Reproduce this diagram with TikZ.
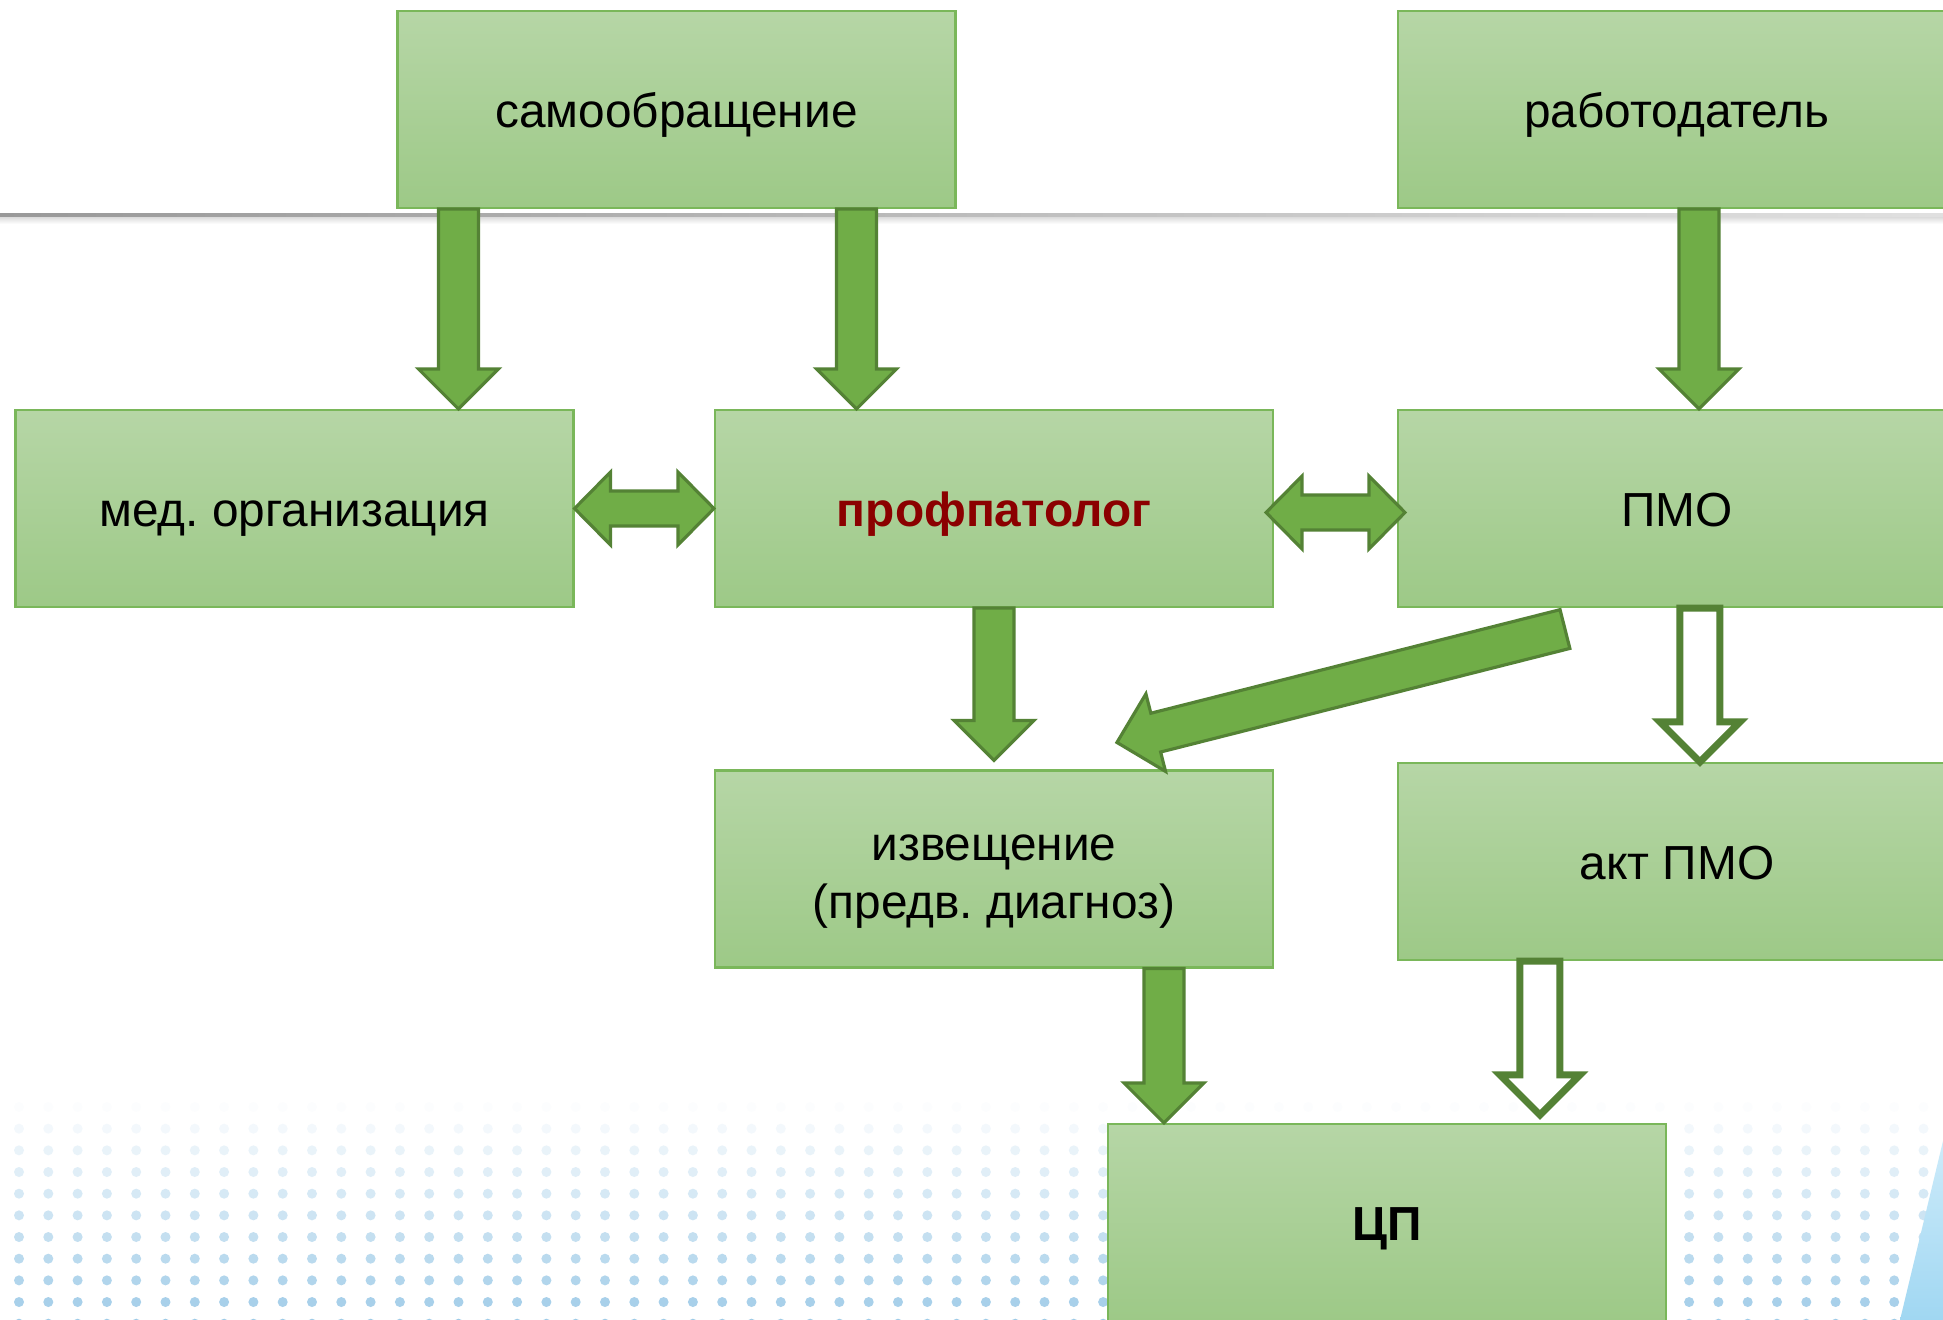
\documentclass[tikz,border=0pt]{standalone}
\usepackage{fontspec}
\setmainfont{Liberation Sans}
\usetikzlibrary{calc}
\frenchspacing

\definecolor{boxtop}{RGB}{182,214,166}
\definecolor{boxbottom}{RGB}{157,201,135}
\definecolor{boxline}{RGB}{122,183,90}
\definecolor{arrowfill}{RGB}{112,173,71}
\definecolor{arrowline}{RGB}{84,130,53}
\definecolor{profred}{RGB}{139,0,0}
\definecolor{dotblue}{RGB}{130,188,225}
\definecolor{wedgetop}{RGB}{205,235,250}
\definecolor{wedgebottom}{RGB}{160,215,242}

\tikzset{
  box/.style={rectangle, minimum width=5.58cm, minimum height=1.97cm, inner sep=0pt,
    draw=boxline, line width=0.6pt, top color=boxtop, bottom color=boxbottom,
    align=center, font=\fontsize{13.6pt}{16.5pt}\selectfont,
    text height=1.03em, text depth=0pt},
  fatarrow/.style={fill=arrowfill, draw=arrowline, line width=0.9pt},
  hollowarrow/.style={fill=white, draw=arrowline, line width=2pt}
}

\newcommand{\blockarrow}[3][fatarrow]{%
  \coordinate (hb) at ($(#3)!0.4cm!(#2)$);
  \draw[#1] ($(#2)!0.2cm!90:(#3)$) -- ($(hb)!0.2cm!90:(#3)$)
    -- ($(hb)!0.4cm!90:(#3)$) -- (#3)
    -- ($(hb)!0.4cm!-90:(#3)$) -- ($(hb)!0.2cm!-90:(#3)$)
    -- ($(#2)!0.2cm!-90:(#3)$) -- cycle;
}
\newcommand{\twinarrow}[3][fatarrow]{%
  \coordinate (ha) at ($(#2)!0.36cm!(#3)$);
  \coordinate (hb) at ($(#3)!0.36cm!(#2)$);
  \draw[#1] (#2) -- ($(ha)!0.365cm!90:(#3)$) -- ($(ha)!0.175cm!90:(#3)$)
    -- ($(hb)!0.175cm!-90:(#2)$) -- ($(hb)!0.365cm!-90:(#2)$) -- (#3)
    -- ($(hb)!0.365cm!90:(#2)$) -- ($(hb)!0.175cm!90:(#2)$)
    -- ($(ha)!0.175cm!-90:(#3)$) -- ($(ha)!0.365cm!-90:(#3)$) -- cycle;
}

\begin{document}
\begin{tikzpicture}
\useasboundingbox (0,0) rectangle (19.43,-13.2);
\clip (0,0) rectangle (19.43,-13.2);
\fill[white] (0,0) rectangle (19.43,-13.2);

\shade[left color=black!40, right color=black!12] (0,-2.14) rectangle (19.43,-2.18);
\shade[top color=black!12, bottom color=white] (0,-2.18) rectangle (19.43,-2.24);
\foreach \row in {0,...,10}
  \foreach \col in {0,...,65}
    \fill[dotblue, opacity=0.02+0.075*\row] (0.19+0.293*\col,-11.07-0.2167*\row) circle [radius=0.05];
\shade[top color=wedgetop, bottom color=wedgebottom] (19.0,-13.2) -- (19.43,-11.41) -- (19.43,-13.2) -- cycle;

\node[box] (samo) at (6.765,-1.095) {самообращение};
\node[box] (rabot) at (16.77,-1.095) {работодатель};
\node[box] (med) at (2.945,-5.085) {мед. организация};
\node[box, text=profred, font=\fontsize{13.6pt}{16.5pt}\selectfont\bfseries] (prof) at (9.94,-5.085) {профпатолог};
\node[box] (pmo) at (16.77,-5.085) {ПМО};
\node[box, text height=2.8em] (izv) at (9.94,-8.69) {извещение\\(предв. диагноз)};
\node[box] (akt) at (16.77,-8.615) {акт ПМО};
\node[box, font=\fontsize{13.6pt}{16.5pt}\selectfont\bfseries] (cp) at (13.87,-12.225) {ЦП};

\coordinate (t1) at ($(samo.south west)+(0.62,0)$);
\coordinate (h1) at (t1 |- med.north);
\coordinate (t2) at ($(samo.south east)+(-1.0,0)$);
\coordinate (h2) at (t2 |- prof.north);
\coordinate (t3) at ($(rabot.south west)+(3.02,0)$);
\coordinate (h3) at (t3 |- pmo.north);
\coordinate (t6) at (prof.south);
\coordinate (h6) at ($(izv.north)+(0,0.09)$);
\coordinate (t9) at ($(izv.south west)+(4.5,0)$);
\coordinate (h9) at (t9 |- cp.north);
\coordinate (t8) at ($(pmo.south west)+(3.03,0)$);
\coordinate (h8) at (t8 |- akt.north);
\coordinate (t10) at ($(akt.south west)+(1.43,0)$);
\coordinate (h10) at ($(t10 |- cp.north)+(0,0.08)$);
\coordinate (td) at ($(pmo.south west)+(1.68,-0.21)$);
\coordinate (hd) at ($(izv.north west)+(4.03,0.27)$);
\coordinate (pr) at ($(prof.east)+(-0.08,-0.04)$);
\coordinate (pl) at ($(pmo.west)+(0.08,-0.04)$);

\blockarrow{t1}{h1}
\blockarrow{t2}{h2}
\blockarrow{t3}{h3}
\twinarrow{med.east}{prof.west}
\twinarrow{pr}{pl}
\blockarrow{t6}{h6}
\blockarrow{td}{hd}
\blockarrow[hollowarrow]{t8}{h8}
\blockarrow{t9}{h9}
\blockarrow[hollowarrow]{t10}{h10}
\end{tikzpicture}
\end{document}
